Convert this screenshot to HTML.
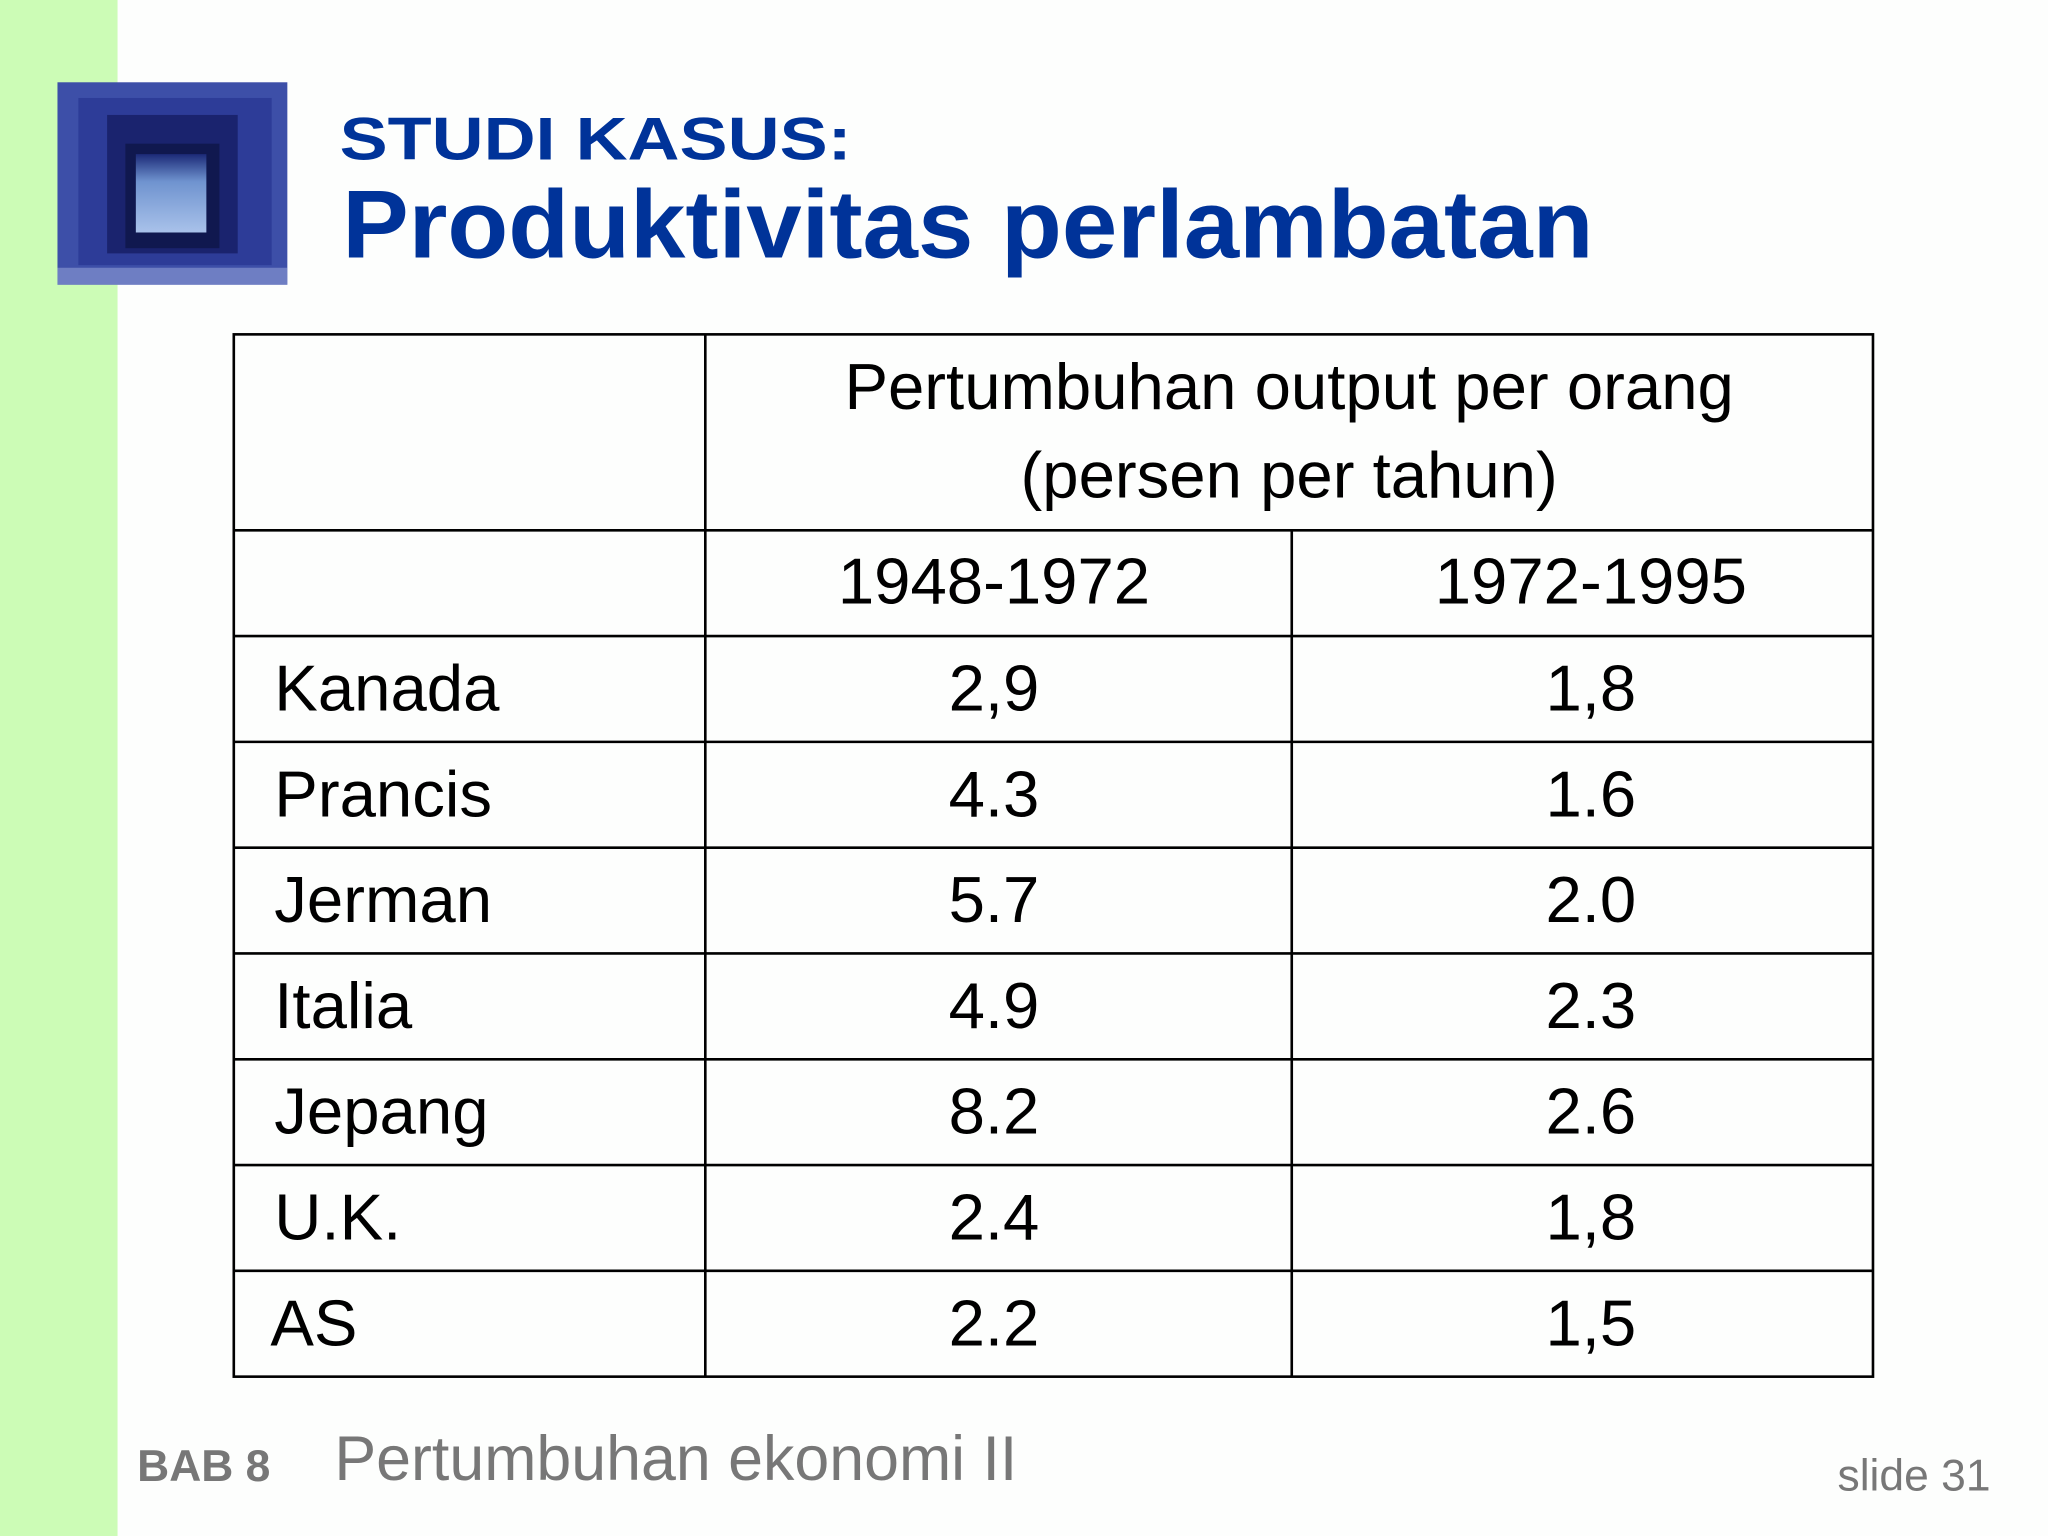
<!DOCTYPE html>
<html><head><meta charset="utf-8"><style>
html,body{margin:0;padding:0;background:#fdfefd;}
svg{display:block;}
text{font-family:"Liberation Sans",sans-serif;}
</style></head><body>
<svg id="s" width="2048" height="1536" viewBox="0 0 1568 1176" xmlns="http://www.w3.org/2000/svg">
<defs>
<linearGradient id="win" x1="0" y1="0" x2="0" y2="1"><stop offset="0" stop-color="#1c2a78"/><stop offset="0.35" stop-color="#6f93cf"/><stop offset="1" stop-color="#a9c2ea"/></linearGradient>
</defs>
<rect x="0" y="0" width="1568" height="1176" fill="#fdfefd"/>
<rect x="0" y="0" width="90" height="1176" fill="#ccfcb6"/>
<g>
<rect x="44" y="63" width="176" height="155" fill="#3d4fa8"/>
<rect x="60" y="75" width="148" height="128" fill="#2d3c98"/>
<rect x="82" y="88" width="100" height="106" fill="#1a236e"/>
<rect x="96" y="110" width="72" height="80" fill="#10184f"/>
<rect x="104" y="118" width="54" height="60" fill="url(#win)"/>
<rect x="44" y="205" width="176" height="13" fill="#8f9fd6" opacity="0.6"/>
</g>
<text x="260" y="122" font-family="'DejaVu Sans',sans-serif" font-weight="bold" font-size="46" fill="#003399" textLength="392" lengthAdjust="spacingAndGlyphs">STUDI KASUS:</text>
<text x="262" y="197" font-family="'DejaVu Sans',sans-serif" font-weight="bold" font-size="74" fill="#003399" textLength="958" lengthAdjust="spacingAndGlyphs">Produktivitas perlambatan</text>
<g id="tbl"></g>
<text x="105" y="1134" font-weight="bold" font-size="34" fill="#777">BAB 8</text>
<text x="256" y="1133" font-size="48" fill="#777">Pertumbuhan ekonomi II</text>
<text x="1524" y="1141" font-size="34" fill="#777" text-anchor="end">slide 31</text>
</svg>
<script>
const countries = ["Kanada","Prancis","Jerman","Italia","Jepang","U.K.","AS"];
const period1 = ["2,9","4.3","5.7","4.9","8.2","2.4","2.2"];
const period2 = ["1,8","1.6","2.0","2.3","2.6","1,8","1,5"];
const periods = ["1948-1972","1972-1995"];
const NS="http://www.w3.org/2000/svg";
const g=document.getElementById('tbl');
function mk(tag,attrs){const e=document.createElementNS(NS,tag);for(const k in attrs)e.setAttribute(k,attrs[k]);g.appendChild(e);return e;}
const X0=179,X1=540,X2=989,X3=1434,Y0=256,Y1=406,RH=81;
const C1=761,C2=1218,CH=987;
const yRow=i=>Y1+RH*i;
const nRows=countries.length+1;
const YEND=yRow(nRows);
const outer=mk('rect',{x:X0,y:Y0,width:X3-X0,height:YEND-Y0,fill:'none',stroke:'#000','stroke-width':2});


const v1=mk('line',{x1:X1,y1:Y0,x2:X1,y2:YEND,stroke:'#000','stroke-width':2});


const v2=mk('line',{x1:X2,y1:Y1,x2:X2,y2:YEND,stroke:'#000','stroke-width':2});


for(let i=0;i<nRows;i++){
  const h=mk('line',{x1:X0,y1:yRow(i),x2:X3,y2:yRow(i),stroke:'#000','stroke-width':2});
  
  
}
function txt(s,x,y,anchor,name){const t=mk('text',{x:x,y:y,'font-size':50,fill:'#000','text-anchor':anchor});t.textContent=s;
  
  
  return t;}
txt("Pertumbuhan output per orang",CH,313,'middle','header-line-1');
txt("(persen per tahun)",CH,381,'middle','header-line-2');
txt(periods[0],C1,462,'middle','period-header');
txt(periods[1],C2,462,'middle','period-header');
for(let i=0;i<countries.length;i++){
  const by=yRow(i+1)+57;
  txt(countries[i],i===6?207:210,by,'start','country-label');
  txt(period1[i],C1,by,'middle','value-1948-1972');
  txt(period2[i],C2,by,'middle','value-1972-1995');
}
</script>
</body></html>
